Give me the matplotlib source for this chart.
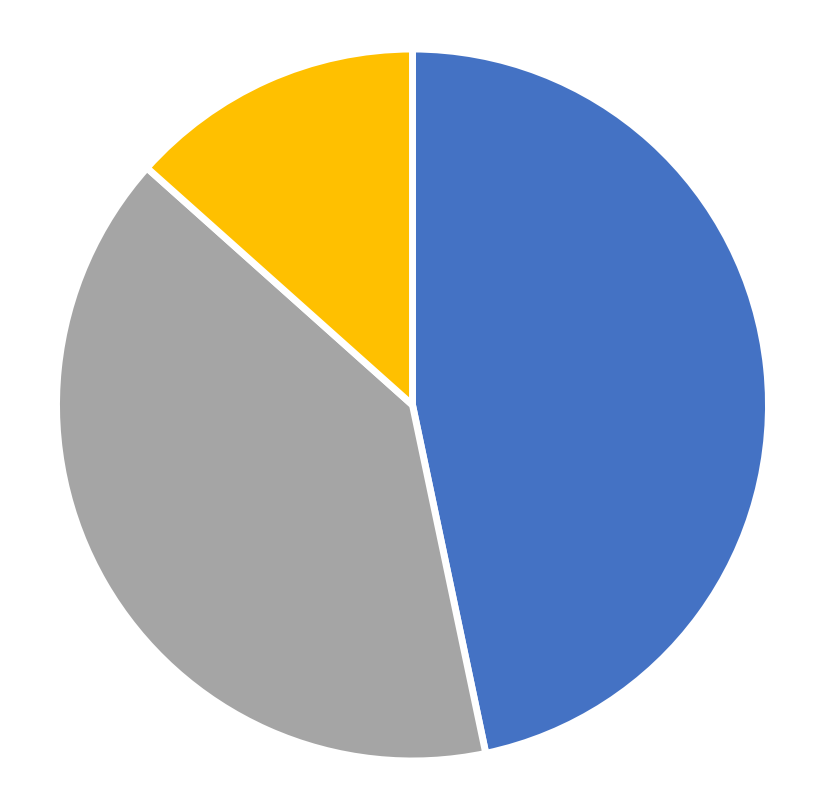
import matplotlib
matplotlib.use("Agg")
import matplotlib.pyplot as plt

categories = ["A", "B", "C"]
values = [46.7, 39.9, 13.4]
colors = ["#4472C4", "#A5A5A5", "#FFC000"]

fig = plt.figure(figsize=(8.25, 8.12), dpi=100)
ax = fig.add_axes([56.5/825, 50/812, 712/825, 712/812])
ax.pie(values, colors=colors, startangle=90, counterclock=False,
       wedgeprops=dict(edgecolor="white", linewidth=5))
ax.set_xlim(-1, 1)
ax.set_ylim(-1, 1)
ax.set_aspect("auto")
ax.axis("off")
fig.savefig("out.png", dpi=100)
